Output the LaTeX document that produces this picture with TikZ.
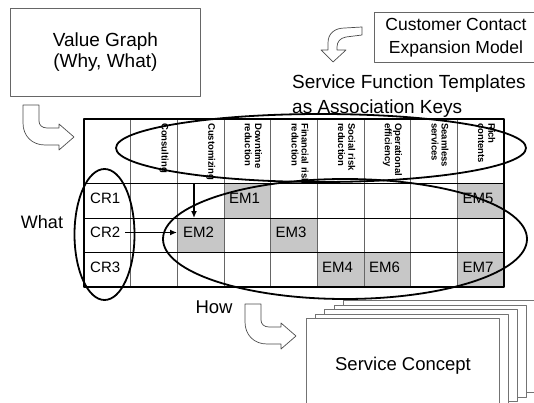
\documentclass[tikz,border=0pt]{standalone}
\usepackage{fontspec}
\setmainfont{Liberation Sans}
\usetikzlibrary{arrows.meta}
\begin{document}
\begin{tikzpicture}[x=1pt,y=-1pt, line join=round,
  box/.style={draw=black!60, line width=0.8pt, fill=white},
  page/.style={draw=black!55, line width=0.8pt, fill=white},
  big/.style={font=\fontsize{19}{21}\selectfont, align=center, inner sep=0pt},
  lbl/.style={font=\fontsize{15}{17}\selectfont, anchor=west, inner sep=0pt},
  hdr/.style={font=\fontsize{9.5}{10.2}\selectfont\bfseries, rotate=-90, anchor=north west, align=left, inner sep=0pt},
  ring/.style={draw=black, line width=1.8pt},
  hollow/.style={draw=black!70, line width=0.7pt, fill=white},
  cellfill/.style={fill=black!22},
  link/.style={line width=1.6pt, -{Latex[length=7pt,width=6pt]}},
  bentarrow/.pic={\draw[hollow] (0,0) -- (16,0) -- (16,16) .. controls (16,20) and (19,23) .. (24,23) -- (36,23) -- (36,19) -- (51,32) -- (36,45) -- (36,40) -- (22,40) .. controls (9,40) and (0,31) .. (0,18) -- cycle;}
]
\useasboundingbox (0,0) rectangle (534,403);

% top boxes
\node[box, minimum width=190, minimum height=88, anchor=north west] (vg) at (10,8) {};
\node[big] (vgtext) at (vg.center) {Value Graph\\(Why, What)};
\node[box, minimum width=170, minimum height=50, anchor=north west] (cc) at (374,12) {};
\node[font=\fontsize{17.5}{23}\selectfont, align=center, inner sep=0pt] (cctext) at (456,38) {Customer Contact\\Expansion Model};

% hollow bent arrows
\draw[hollow] (362,27) -- (362,35) -- (346,37) .. controls (340,38) and (337,42) .. (337,47) -- (337,50) -- (346,50) -- (333,62) -- (321,50) -- (328,50) -- (328,43) .. controls (328,33) and (335,28) .. (345,28) -- cycle;
\pic at (23,105) {bentarrow};
\pic at (245,304) {bentarrow};

% titles
\node[font=\fontsize{19}{21}\selectfont, anchor=west, inner sep=0pt] (sft) at (292,84) {Service Function Templates};
\node[font=\fontsize{19}{21}\selectfont, anchor=west, inner sep=0pt] (ak) at (292,109) {as Association Keys};
\node[font=\fontsize{18}{20}\selectfont, inner sep=0pt] (what) at (42,222) {What};
\node[font=\fontsize{18.5}{20}\selectfont, inner sep=0pt] (how) at (214,307) {How};

% table
\fill[white] (84,119) rectangle (504,287);
\fill[cellfill] (224,183) rectangle (270.7,218);
\fill[cellfill] (457.3,183) rectangle (504,218);
\fill[cellfill] (177.3,218) rectangle (224,252.5);
\fill[cellfill] (270.7,218) rectangle (317.3,252.5);
\fill[cellfill] (317.3,252.5) rectangle (364,287);
\fill[cellfill] (364,252.5) rectangle (410.7,287);
\fill[cellfill] (457.3,252.5) rectangle (504,287);
\draw[black!60, line width=0.7pt] foreach \x in {130.7,177.3,224,270.7,317.3,364,410.7,457.3} {(\x,119) -- (\x,287)};
\draw[black, line width=0.8pt] (84,183) -- (504,183) (84,218) -- (504,218) (84,252.5) -- (504,252.5);
\draw[black, line width=1.5pt] (84,119) rectangle (504,287);

% headers
\node[hdr] (h1) at (168.8,123) {Consulting};
\node[hdr] (h2) at (215.5,123) {Customizing};
\node[hdr] (h3) at (262.2,123) {Downtime\\reduction};
\node[hdr] (h4) at (308.8,123) {Financial risk\\reduction};
\node[hdr] (h5) at (355.5,123) {Social risk\\reduction};
\node[hdr] (h6) at (402.2,123) {Operational\\efficiency};
\node[hdr] (h7) at (448.8,123) {Seamless\\services};
\node[hdr] (h8) at (495.5,123) {Rich\\contents};

% row labels and cells
\node[lbl] (cr1) at (90,198.5) {CR1};
\node[lbl] (cr2) at (90,232.5) {CR2};
\node[lbl] (cr3) at (90,267) {CR3};
\node[lbl] (em1) at (229,198.5) {EM1};
\node[lbl] (em5) at (462.5,198.5) {EM5};
\node[lbl] (em2) at (183,232.5) {EM2};
\node[lbl] (em3) at (275.5,232.5) {EM3};
\node[lbl] (em4) at (322,267) {EM4};
\node[lbl] (em6) at (369,267) {EM6};
\node[lbl] (em7) at (462.5,267) {EM7};

% connectors
\coordinate (custfoot) at (194,183.5);
\coordinate (em2top) at (194,218);
\draw[link] (custfoot) -- (em2top);
\draw[link] ([xshift=5pt]cr2.east) -- ([xshift=-6pt]em2.west);

% ellipses
\draw[ring] (321,148) ellipse [x radius=205, y radius=34];
\draw[ring] (345,239) ellipse [x radius=182, y radius=60];
\draw[ring] (104.5,234.5) ellipse [x radius=30, y radius=65.5];

% service concept stack
\draw[page] (343,300) rectangle (538,392);
\draw[page] (334,305) rectangle (526,397);
\draw[page] (324,309) rectangle (517,401);
\draw[page] (315,314) rectangle (508,406);
\node[page, minimum width=193, minimum height=92, anchor=north west] (sc) at (306,318) {};
\node[font=\fontsize{18.5}{20}\selectfont, inner sep=0pt] (sctext) at (403,366) {Service Concept};
\end{tikzpicture}
\end{document}
